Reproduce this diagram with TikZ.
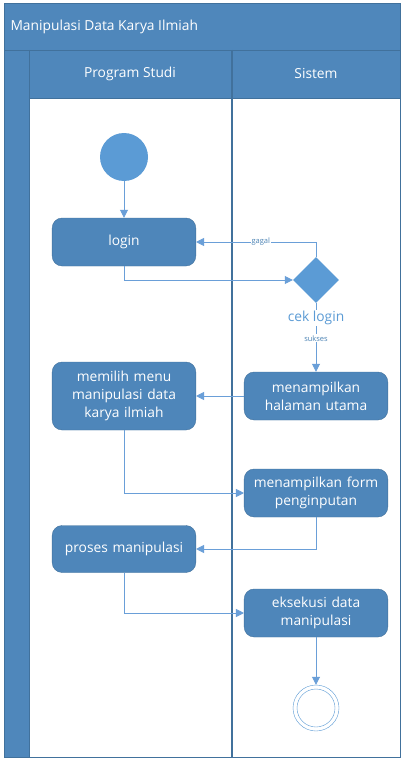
\documentclass[tikz,border=0pt]{standalone}
\usepackage{fontspec}
\setmainfont{Open Sans}
\usetikzlibrary{arrows.meta, shapes.geometric}

\definecolor{poolblue}{HTML}{4F87BB}
\definecolor{poolline}{HTML}{41719C}
\definecolor{actfill}{HTML}{4E86BA}
\definecolor{markblue}{HTML}{5B9BD5}
\definecolor{flowline}{HTML}{6A9FD8}

\begin{document}
\begin{tikzpicture}[
    x=1pt, y=-1pt,
    >={Triangle[length=8pt,width=8pt]},
    every node/.style={font=\fontsize{13.8}{18}\selectfont},
    activity/.style={
      draw=poolline,
      fill=actfill,
      rounded corners=10pt,
      minimum width=143pt,
      minimum height=48pt,
      text width=137pt,
      align=center,
      text=white
    },
    flow/.style={draw=flowline, line width=0.8pt, ->},
    guard/.style={fill=white, inner sep=1pt, text=markblue!85!black,
      font=\fontsize{7.5}{9}\selectfont}
  ]
  \useasboundingbox (0,0) rectangle (405,765);
  \fill[white] (0,0) rectangle (405,765);

  % pool and lanes
  \draw[poolline, fill=poolblue] (4,3) rectangle (400,757);
  \fill[white] (29,98) rectangle (400,757);
  \draw[poolline, line width=0.8pt] (4,50) -- (400,50);
  \draw[poolline, line width=0.8pt] (29,50) -- (29,757);
  \draw[poolline, line width=1.2pt] (232,50) -- (232,757);
  \draw[poolline, line width=0.8pt] (29,98) -- (400,98);
  \draw[poolline, line width=0.8pt] (4,3) rectangle (400,757);

  \node[anchor=west, text=white] (title) at (7,27) {Manipulasi Data Karya Ilmiah};
  \node[text=white] (prodi) at (130,74) {Program Studi};
  \node[text=white] (sistem) at (316,74) {Sistem};

  % activities
  \node[circle, fill=markblue, minimum size=48pt, inner sep=0pt] (start) at (124,157) {};
  \node[activity] (login) at (124,242) {login};
  \node[diamond, fill=markblue, minimum size=46pt, inner sep=0pt] (cek) at (316,280) {};
  \node[activity] (halaman) at (316,396) {menampilkan\\halaman utama};
  \node[activity, minimum height=68pt] (memilih) at (124,396) {memilih menu\\manipulasi data\\karya ilmiah};
  \node[activity] (form) at (316,493) {menampilkan form\\penginputan};
  \node[activity, minimum height=47pt] (proses) at (124,549) {proses manipulasi};
  \node[activity] (eksekusi) at (316,613) {eksekusi data\\manipulasi};
  \node[circle, draw=markblue, fill=white, minimum size=46pt, inner sep=0pt] (stop) at (316,708) {};
  \draw[markblue] (stop) circle (19pt);

  % flows
  \draw[flow] (start) -- (login);
  \draw[flow] (login.south) |- (cek.west);
  \draw[flow] (cek.north) |- node[guard, pos=0.73] {gagal} (login.east);
  \draw[flow] (cek.south) -- node[fill=white, inner sep=1pt, text=markblue, pos=0.22] {cek login}
    node[guard, pos=0.51] {sukses} (halaman.north);
  \draw[flow] (halaman.west) -- (memilih.east);
  \draw[flow] (memilih.south) |- (form.west);
  \draw[flow] (form.south) |- (proses.east);
  \draw[flow] (proses.south) |- (eksekusi.west);
  \draw[flow] (eksekusi) -- (stop);
\end{tikzpicture}
\end{document}
